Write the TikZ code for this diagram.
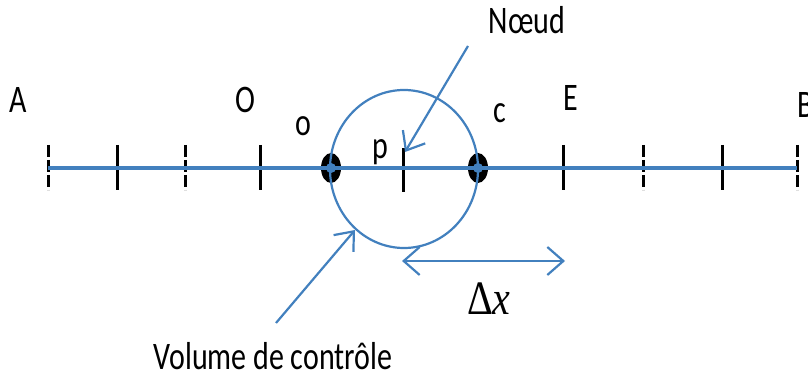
\documentclass[tikz,border=0pt]{standalone}
\usepackage{fontspec}
\setmainfont{Carlito}
\newfontfamily\deltafont{Liberation Serif}
\usepackage{graphicx}
\usepackage{xcolor}
\usepackage{tikz}
\usetikzlibrary{
  arrows.meta,
  positioning
}
\definecolor{axisblue}{RGB}{66,128,190}
% letters are drawn a bit taller than wide, as in the source figure
\newcommand{\tall}[1]{\scalebox{1}[1.3]{#1}}

\begin{document}
\begin{tikzpicture}[
  x=1pt, y=-1pt,
  lbl/.style={font=\fontsize{30}{34}\selectfont, inner sep=0pt},
  solidtick/.style={draw=black, line width=3pt},
  dashtick/.style={draw=black, line width=3pt, dash pattern=on 12pt off 3pt},
  ptr/.style={draw=axisblue, line width=2.2pt,
    -{Straight Barb[length=16pt, width=26pt, line width=2.2pt]}},
  both/.style={draw=axisblue, line width=2.2pt,
    {Straight Barb[length=16pt, width=28pt, line width=2.2pt]}-{Straight Barb[length=16pt, width=28pt, line width=2.2pt]}}
]
  \useasboundingbox (0,0) rectangle (808,379);

  % grid ticks
  \foreach \xx in {117, 260, 563, 722}
    \draw[solidtick] (\xx,145) -- (\xx,190);
  \foreach \xx in {48, 185, 643, 797}
    \draw[dashtick] (\xx,145) -- (\xx,190);
  \draw[solidtick] (403,148) -- (403,192);

  % faces of the control volume
  \fill[black] (331,168) ellipse [x radius=10, y radius=15];
  \fill[black] (478,168) ellipse [x radius=10, y radius=15];

  \coordinate (west) at (48,168);
  \coordinate (east) at (797,168);
  \draw[axisblue, line width=3.6pt] (west) -- (east);
  \fill[axisblue] (331,168) circle (5);
  \fill[axisblue] (478,168) circle (5);

  \draw[axisblue, line width=2.2pt] (404,169) ellipse [x radius=74, y radius=79];

  % labels
  \node[lbl] (A)  at (18,100)  {\tall{A}};
  \node[lbl] (O)  at (245,100) {\tall{O}};
  \node[lbl] (o)  at (303,126) {\tall{o}};
  \node[lbl] (p)  at (380,152) {\tall{p}};
  \node[lbl] (c)  at (500,113) {\tall{c}};
  \node[lbl] (E)  at (571,98)  {\tall{E}};
  \node[lbl] (B)  at (806,105) {\tall{B}};
  \node[lbl] (noeud)  at (527,20)  {\tall{Nœud}};
  \node[lbl] (volume) at (273,356) {\tall{Volume de contrôle}};
  \node[inner sep=0pt, font=\deltafont\fontsize{40}{44}\selectfont] (dx) at (489,299)
    {\scalebox{1}[1.2]{Δ\textit{x}}};

  % pointers
  \coordinate (noeudtail) at (468,46);
  \coordinate (noeudtip)  at (405,152);
  \draw[ptr] (noeudtail) -- (noeudtip);
  \coordinate (voltail) at (276,323);
  \coordinate (voltip)  at (355,230);
  \draw[ptr] (voltail) -- (voltip);
  \coordinate (dxleft)  at (402,261);
  \coordinate (dxright) at (565,261);
  \draw[both] (dxleft) -- (dxright);
\end{tikzpicture}
\end{document}
